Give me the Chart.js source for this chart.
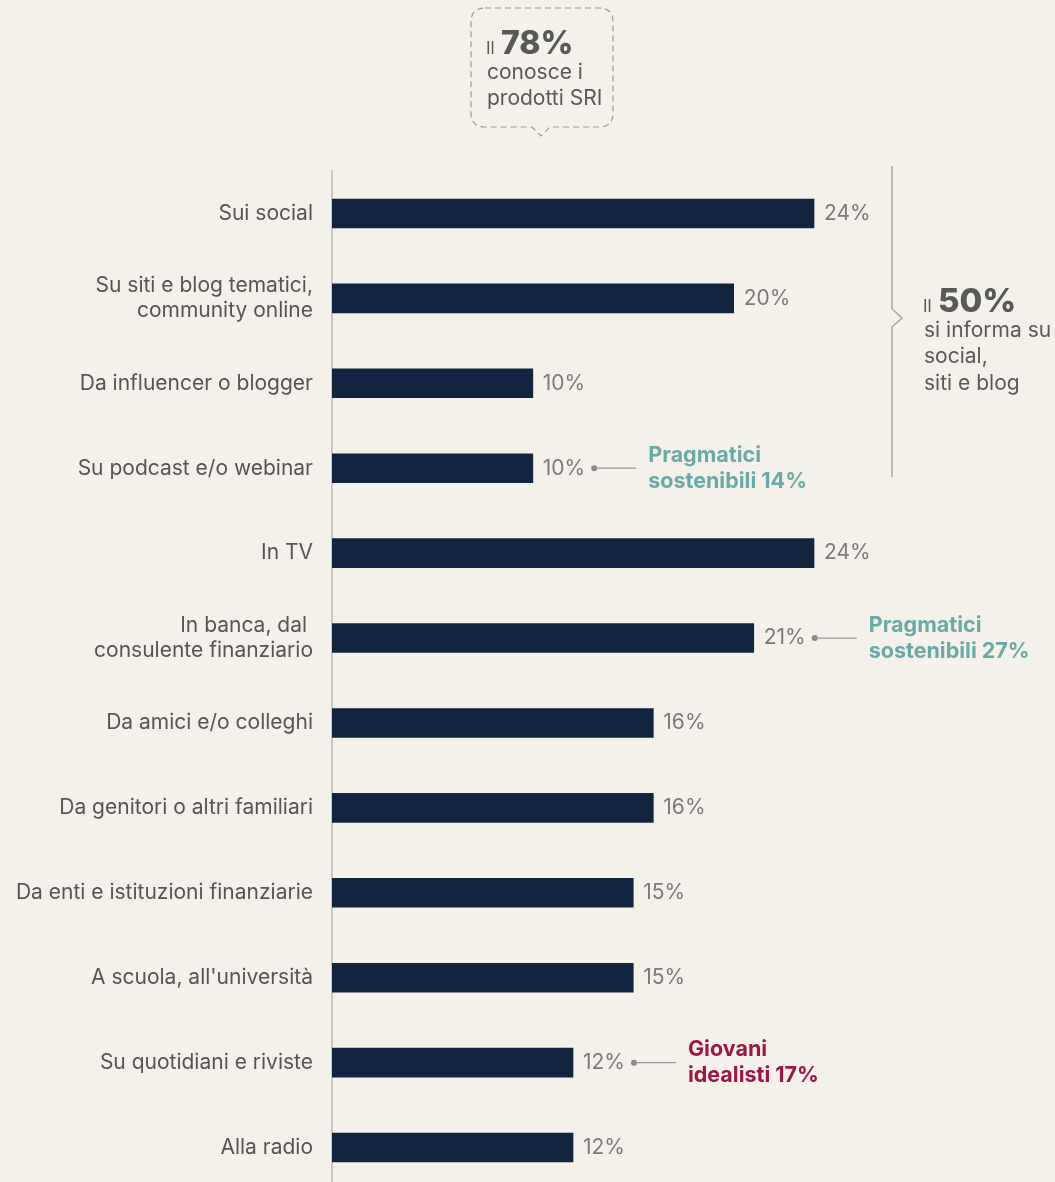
<!DOCTYPE html>
<html><head><meta charset="utf-8">
<script src="https://cdn.jsdelivr.net/npm/chart.js@4/dist/chart.umd.min.js"></script>
<style>
html,body{margin:0;padding:0;background:#f4f1eb;overflow:hidden;}
canvas{display:block;}
</style></head>
<body>
<canvas id="c" width="1055" height="1190"></canvas>
<script>
const categories = [
  'Sui social',
  ['Su siti e blog tematici,', 'community online'],
  'Da influencer o blogger',
  'Su podcast e/o webinar',
  'In TV',
  ['In banca, dal ', 'consulente finanziario'],
  'Da amici e/o colleghi',
  'Da genitori o altri familiari',
  'Da enti e istituzioni finanziarie',
  "A scuola, all'università",
  'Su quotidiani e riviste',
  'Alla radio'
];
const values = [24, 20, 10, 10, 24, 21, 16, 16, 15, 15, 12, 12];
const calloutIndex = [3, 5, 10];
const calloutLines = [
  ['Pragmatici', 'sostenibili 14%'],
  ['Pragmatici', 'sostenibili 27%'],
  ['Giovani', 'idealisti 17%']
];
const calloutColors = ['#6aa9a8', '#6aa9a8', '#9c1748'];
const topNote = ['Il', '78%', 'conosce i', 'prodotti SRI'];
const sideNote = ['Il', '50%', 'si informa su', 'social,', 'siti e blog'];

const FONT = 'Inter, "Noto Sans", sans-serif';

const annotPlugin = {
  id: 'annot',
  afterDatasetsDraw(chart) {
    const ctx = chart.ctx;
    const meta = chart.getDatasetMeta(0);
    ctx.save();
    ctx.font = '400 21px ' + FONT;
    ctx.textBaseline = 'middle';
    ctx.textAlign = 'left';
    const labelEnds = [];
    meta.data.forEach((bar, i) => {
      const t = values[i] + '%';
      ctx.fillStyle = '#7a7a7a';
      ctx.fillText(t, bar.x + 10, bar.y);
      labelEnds[i] = bar.x + 10 + ctx.measureText(t).width;
    });
    calloutIndex.forEach((idx, k) => {
      const bar = meta.data[idx];
      const dx = labelEnds[idx] + 9;
      const y = bar.y;
      ctx.fillStyle = '#888';
      ctx.beginPath(); ctx.arc(dx, y, 3, 0, Math.PI * 2); ctx.fill();
      ctx.strokeStyle = '#999'; ctx.lineWidth = 1.2;
      ctx.beginPath(); ctx.moveTo(dx, y); ctx.lineTo(dx + 42, y); ctx.stroke();
      ctx.fillStyle = calloutColors[k];
      ctx.font = '700 21.5px ' + FONT;
      ctx.textAlign = 'left';
      ctx.fillText(calloutLines[k][0], dx + 54, y - 13);
      ctx.fillText(calloutLines[k][1], dx + 54, y + 13);
    });
    ctx.strokeStyle = '#9a9a9a'; ctx.lineWidth = 1.2; ctx.setLineDash([6, 4]);
    const L = 471, R = 613, T = 8, B = 127, r = 14, tx = 541;
    ctx.beginPath();
    ctx.moveTo(L + r, T); ctx.lineTo(R - r, T); ctx.quadraticCurveTo(R, T, R, T + r);
    ctx.lineTo(R, B - r); ctx.quadraticCurveTo(R, B, R - r, B);
    ctx.lineTo(tx + 9, B); ctx.lineTo(tx, B + 9); ctx.lineTo(tx - 9, B);
    ctx.lineTo(L + r, B); ctx.quadraticCurveTo(L, B, L, B - r);
    ctx.lineTo(L, T + r); ctx.quadraticCurveTo(L, T, L + r, T);
    ctx.stroke();
    ctx.setLineDash([]);
    ctx.fillStyle = '#595959';
    ctx.textBaseline = 'alphabetic';
    ctx.font = '400 17px ' + FONT;
    ctx.fillText(topNote[0], 486, 54);
    ctx.font = '800 32px ' + FONT;
    ctx.fillText(topNote[1], 501, 54);
    ctx.font = '400 21px ' + FONT;
    ctx.textBaseline = 'middle';
    ctx.fillText(topNote[2], 487, 73);
    ctx.fillText(topNote[3], 487, 99);
    ctx.strokeStyle = '#a8a8a8'; ctx.lineWidth = 1.5;
    ctx.beginPath();
    ctx.moveTo(892, 166); ctx.lineTo(892, 309); ctx.lineTo(902, 318); ctx.lineTo(892, 327); ctx.lineTo(892, 477);
    ctx.stroke();
    ctx.textBaseline = 'alphabetic';
    ctx.fillStyle = '#595959';
    ctx.font = '400 17px ' + FONT;
    ctx.fillText(sideNote[0], 923, 312);
    ctx.font = '800 33px ' + FONT;
    ctx.fillText(sideNote[1], 938, 312);
    ctx.font = '400 21px ' + FONT;
    ctx.textBaseline = 'middle';
    ctx.fillText(sideNote[2], 924, 331);
    ctx.fillText(sideNote[3], 924, 357);
    ctx.fillText(sideNote[4], 924, 384);
    ctx.restore();
  }
};

new Chart(document.getElementById('c'), {
  type: 'bar',
  data: {
    labels: categories,
    datasets: [{
      data: values,
      backgroundColor: '#12243f',
      barThickness: 29,
      borderWidth: 0
    }]
  },
  options: {
    indexAxis: 'y',
    responsive: false,
    animation: false,
    layout: { padding: { top: 171, bottom: 0, left: 0, right: 0 } },
    plugins: { legend: { display: false }, tooltip: { enabled: false } },
    scales: {
      x: { display: false, min: 0, max: 36, grid: { display: false } },
      y: {
        afterFit(scale) { scale.width = 332; scale.paddingTop = 0; scale.paddingBottom = 0; },
        grid: { display: false, drawTicks: false, tickLength: 0 },
        border: { display: true, color: '#cbc8c3', width: 2 },
        ticks: {
          color: '#555555',
          padding: 19,
          font: { family: FONT, size: 21, lineHeight: 1.2 }
        }
      }
    }
  },
  plugins: [annotPlugin]
});
</script>
</body></html>
